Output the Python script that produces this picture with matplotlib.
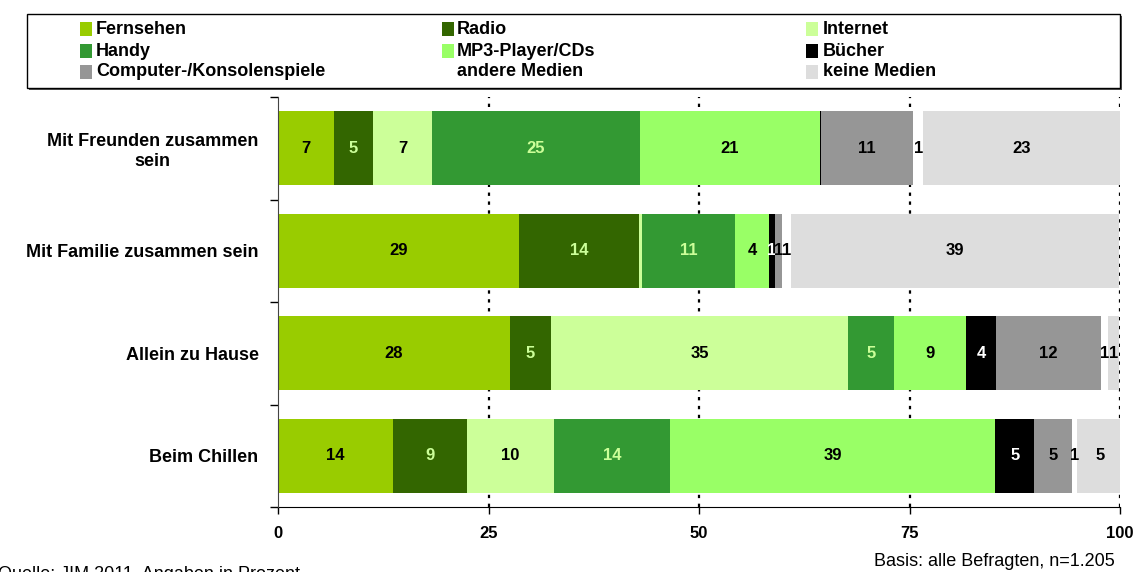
import matplotlib
matplotlib.use("Agg")
import matplotlib.pyplot as plt
from matplotlib.patches import Rectangle
import numpy as np

plt.rcParams['font.family'] = ['Liberation Sans', 'DejaVu Sans']

categories = ["Mit Freunden zusammen\nsein", "Mit Familie zusammen sein",
              "Allein zu Hause", "Beim Chillen"]
series = ["Fernsehen", "Radio", "Internet", "Handy", "MP3-Player/CDs",
          "Bücher", "Computer-/Konsolenspiele", "andere Medien", "keine Medien"]

fernsehen = [6.65, 28.6, 27.55, 13.6]
radio = [4.63, 14.25, 4.87, 8.8]
internet = [7.0, 0.35, 35.3, 10.4]
handy = [24.7, 11.1, 5.4, 13.8]
mp3 = [21.4, 4.0, 8.6, 38.6]
buecher = [0.15, 0.7, 3.6, 4.6]
computer = [10.9, 0.8, 12.4, 4.55]
andere = [1.2, 1.1, 0.8, 0.6]
keine = [23.4, 39.0, 1.4, 5.3]

values = [fernsehen, radio, internet, handy, mp3, buecher, computer, andere, keine]
colors = ["#99cc00", "#336600", "#ccff99", "#339933", "#99ff66",
          "#000000", "#969696", "#ffffff", "#dddddd"]
label_colors = ["black", "#ccff99", "black", "#ccff99", "black",
                "white", "black", "black", "black"]
xticks = [0, 25, 50, 75, 100]

W, H = 1136, 572
fig = plt.figure(figsize=(W / 100, H / 100), dpi=100)
ax = fig.add_axes([278 / W, 1 - 507 / H, (1120 - 278) / W, (507 - 97) / H])

y = np.arange(len(categories))
left = np.zeros(len(categories))
for vals, col, lc in zip(values, colors, label_colors):
    vals = np.array(vals)
    ax.barh(y, vals, left=left, height=0.72, color=col, linewidth=0, zorder=2)
    for yi, (l, v) in enumerate(zip(left, vals)):
        lab = int(round(v))
        if lab >= 1:
            ax.text(l + v / 2, yi, str(lab), ha='center', va='center',
                    fontsize=12, fontweight='bold', color=lc, zorder=3)
    left = left + vals

ax.set_xlim(0, 100)
ax.set_ylim(3.5, -0.5)
for xv in xticks[1:]:
    ax.axvline(xv, color='black', linestyle=(0, (1.5, 2.5)), linewidth=1.6, zorder=1)

ax.set_xticks(xticks)
ax.set_xticklabels([str(t) for t in xticks], fontsize=12, fontweight='bold')
ax.tick_params(axis='x', direction='out', length=5, width=1, pad=9)

ax.set_yticks(np.arange(-0.5, 4, 1))
ax.set_yticklabels([])
ax.tick_params(axis='y', which='major', direction='out', length=6, width=1)
ax.set_yticks(y, minor=True)
ax.set_yticklabels(categories, minor=True, fontsize=13, fontweight='bold',
                   multialignment='center')
ax.tick_params(axis='y', which='minor', length=0, pad=14)

for s in ['top', 'right']:
    ax.spines[s].set_visible(False)
ax.spines['left'].set_color('#444444')
ax.spines['bottom'].set_color('black')
ax.spines['left'].set_zorder(4)

# Legend drawn manually
def fx(px):
    return px / W

def fy(py):
    return 1 - py / H

shadow = Rectangle((fx(29), fy(90)), fx(1120 - 27), (88 - 14) / H,
                   transform=fig.transFigure, facecolor='#555555', edgecolor='none')
fig.patches.append(shadow)
box = Rectangle((fx(27), fy(88)), fx(1120 - 27), (88 - 14) / H,
                transform=fig.transFigure, facecolor='white', edgecolor='black',
                linewidth=1)
fig.patches.append(box)

col_sw = [80, 442, 806]
col_tx = [96, 457, 823]
row_y = [29, 51, 72]
for i, (name, col) in enumerate(zip(series, colors)):
    r, c = divmod(i, 3)
    if col.lower() != "#ffffff":
        sw = Rectangle((fx(col_sw[c]), fy(row_y[r] + 7)), 12 / W, 14 / H,
                       transform=fig.transFigure, facecolor=col, edgecolor='none')
        fig.patches.append(sw)
    fig.text(fx(col_tx[c]), fy(row_y[r]), name, ha='left', va='center',
             fontsize=13, fontweight='bold', color='black')

fig.text(fx(1115), fy(562), "Basis: alle Befragten, n=1.205", ha='right',
         va='center', fontsize=13, color='black')
fig.text(fx(-2), fy(566), "Quelle: JIM 2011, Angaben in Prozent", ha='left',
         va='top', fontsize=13, color='black')

fig.savefig("out.png", dpi=100)
